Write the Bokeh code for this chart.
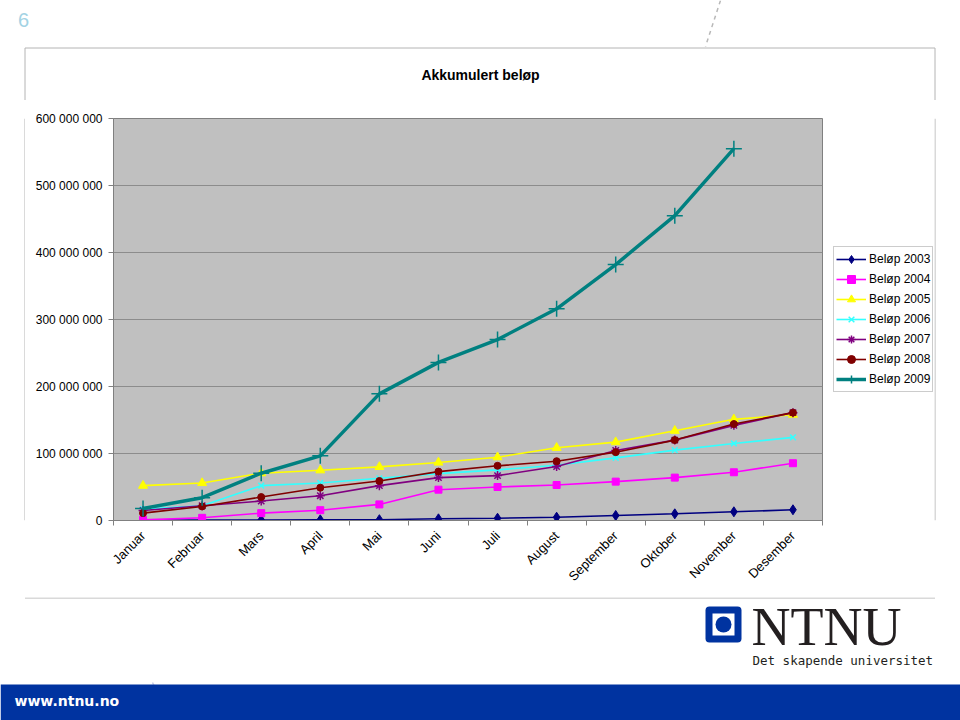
import math
from bokeh.plotting import figure
from bokeh.layouts import column, row
from bokeh.models import (FactorRange, Range1d, LinearAxis, CategoricalAxis, FixedTicker,
                          Legend, LegendItem, Label, BoxAnnotation, Grid)
from bokeh.embed import file_html
from bokeh.resources import INLINE

# ---------------- data (values in millions NOK) ----------------
months = ["Januar", "Februar", "Mars", "April", "Mai", "Juni", "Juli",
          "August", "September", "Oktober", "November", "Desember"]

belop_2003 = [0.3, 0.6, 0.8, 1.0, 1.2, 2.5, 3.4, 4.9, 7.5, 10.0, 13.0, 16.0]
belop_2004 = [1.0, 4.0, 11.0, 15.4, 24.0, 46.0, 50.0, 53.0, 58.0, 64.0, 72.0, 85.5]
belop_2005 = [52.0, 56.0, 70.6, 75.0, 80.0, 86.6, 94.5, 108.5, 117.0, 134.0, 151.0, 158.0]
belop_2006 = [17.0, 22.0, 52.0, 56.0, 63.0, 70.0, 75.6, 82.5, 93.5, 105.0, 115.0, 124.0]
belop_2007 = [15.0, 22.0, 29.0, 37.0, 52.0, 64.0, 67.0, 80.6, 104.5, 120.0, 142.0, 161.0]
belop_2008 = [11.0, 21.0, 35.0, 49.0, 59.0, 73.0, 81.6, 88.5, 102.0, 120.0, 144.0, 161.0]
belop_2009 = [18.0, 34.0, 70.6, 96.5, 189.0, 236.0, 270.0, 316.0, 382.0, 455.0, 555.0]

series_labels = ["Beløp 2003", "Beløp 2004", "Beløp 2005", "Beløp 2006",
                 "Beløp 2007", "Beløp 2008", "Beløp 2009"]

yticks = [0, 100_000_000, 200_000_000, 300_000_000, 400_000_000, 500_000_000, 600_000_000]
ytick_labels = ["0", "100 000 000", "200 000 000", "300 000 000",
                "400 000 000", "500 000 000", "600 000 000"]

title_text = "Akkumulert beløp"

FONT = "Liberation Sans"
BOX = "#b4b4b4"
BLUE = "#0033a0"


def blank(w, h, flip=True):
    """A figure whose frame covers its whole canvas, with pixel coordinates."""
    yr = Range1d(h, 0) if flip else Range1d(0, h)
    f = figure(width=w, height=h, x_range=Range1d(0, w), y_range=yr,
               x_axis_location=None, y_axis_location=None, title=None,
               output_backend="svg", toolbar_location=None,
               min_border=0, outline_line_color=None,
               background_fill_color="white", border_fill_color="white")
    f.grid.visible = False
    return f


# ---------------- main chart (page x 25..823, y 100..597) ----------------
MW, MH = 798, 497
p = figure(width=MW, height=MH, title=None,
           x_range=FactorRange(factors=months), y_range=Range1d(0, 600_000_000),
           x_axis_location=None, y_axis_location=None,
           output_backend="svg", toolbar_location=None,
           min_border_left=88, min_border_right=1,
           min_border_top=18, min_border_bottom=77,
           background_fill_color="#c0c0c0", border_fill_color="white",
           outline_line_color="#808080", outline_line_width=1)
p.grid.visible = False

# tick marks at the boundaries between categories (synthetic coordinates 0..12), no labels
xtick_axis = LinearAxis(ticker=FixedTicker(ticks=[], minor_ticks=list(range(len(months) + 1))),
                        major_tick_in=0, major_tick_out=0, minor_tick_in=0, minor_tick_out=5,
                        major_label_standoff=0,
                        axis_line_color="#808080", minor_tick_line_color="#808080")
p.add_layout(xtick_axis, "below")

xcat = CategoricalAxis(axis_line_color=None, major_tick_line_color=None,
                       major_tick_in=0, major_tick_out=0,
                       major_label_orientation=math.pi / 4,
                       major_label_text_font=FONT, major_label_text_font_size="13px",
                       major_label_text_color="black", major_label_standoff=8)
p.add_layout(xcat, "below")

yaxis = LinearAxis(ticker=FixedTicker(ticks=yticks),
                   major_label_overrides=dict(zip(yticks, ytick_labels)),
                   major_tick_in=0, major_tick_out=5, minor_tick_in=0, minor_tick_out=0,
                   axis_line_color="#808080", major_tick_line_color="#808080",
                   major_label_text_font=FONT, major_label_text_font_size="12px",
                   major_label_text_color="black", major_label_standoff=6)
p.add_layout(yaxis, "left")
p.add_layout(Grid(dimension=1, ticker=FixedTicker(ticks=yticks),
                  grid_line_color="#8c8c8c", grid_line_width=1))

all_values = [belop_2003, belop_2004, belop_2005, belop_2006, belop_2007, belop_2008, belop_2009]
colors = ["#000080", "#ff00ff", "#ffff00", "#33ffff", "#800080", "#800000", "#008080"]
markers = ["diamond", "square", "triangle", "x", "asterisk", "circle", "cross"]
msizes = [10, 7, 9, 8, 9, 7, 16]
lwidths = [1.6, 1.6, 1.6, 1.6, 1.6, 1.6, 3.5]

# legend panel (page x 823..934): a figure that carries the key for the series
LW = 111
lf = blank(LW, MH, flip=False)

items = []
for lab, vals, col, mk, ms, lw in zip(series_labels, all_values, colors, markers, msizes, lwidths):
    xs = months[:len(vals)]
    ys = [v * 1_000_000 for v in vals]
    mlw = 1.5 if mk in ("x", "asterisk", "cross") else 1
    p.line(x=xs, y=ys, line_color=col, line_width=lw)
    p.scatter(x=xs, y=ys, marker=mk, size=ms, fill_color=col, line_color=col, line_width=mlw)
    # same styles, placed outside the visible range: only the legend key shows them
    kl = lf.line(x=[-500, -400], y=[-500, -500], line_color=col, line_width=lw)
    ks = lf.scatter(x=[-500], y=[-500], marker=mk, size=min(ms, 12), fill_color=col,
                    line_color=col, line_width=mlw)
    items.append(LegendItem(label=lab, renderers=[kl, ks]))

legend = Legend(items=items, location=(10, 128),
                label_text_font=FONT, label_text_font_size="12px", label_text_color="black",
                glyph_width=30, glyph_height=20, label_height=20, label_standoff=3,
                spacing=0, padding=2, margin=0,
                border_line_color="#999999", border_line_width=1,
                background_fill_color="white", background_fill_alpha=1)
lf.add_layout(legend)

# ---------------- top strip (page y 0..100) ----------------
TH = 100
top = blank(960, TH)
top.add_layout(Label(x=23, y=19, text="6", text_align="center", text_baseline="middle",
                     text_font=FONT, text_font_size="20px", text_color="#a3d3e4"))
top.segment(x0=[720], y0=[0], x1=[705], y1=[46], line_color="#b8b8b8",
            line_width=1.5, line_dash="4 4")
top.segment(x0=[24.5, 24.5, 934.5], y0=[47.5, 47.5, 47.5],
            x1=[934.5, 24.5, 934.5], y1=[47.5, TH, TH], line_color=BOX, line_width=1)
top.add_layout(Label(x=480, y=74, text=title_text, text_align="center", text_baseline="middle",
                     text_font=FONT, text_font_style="bold", text_font_size="14px",
                     text_color="black"))

# ---------------- side strips (page y 100..597) ----------------
left = blank(25, MH)
left.segment(x0=[24.5], y0=[0], x1=[24.5], y1=[MH], line_color=BOX, line_width=1)
right = blank(26, MH)
right.segment(x0=[0.5], y0=[0], x1=[0.5], y1=[MH], line_color=BOX, line_width=1)

# ---------------- bottom strip (page y 597..720) ----------------
BH = 123
bot = blank(960, BH)
bot.segment(x0=[24.5], y0=[0.5], x1=[934.5], y1=[0.5], line_color=BOX, line_width=1)
# blue band
bot.add_layout(BoxAnnotation(left=0, right=960, top=87, bottom=BH,
                             fill_color=BLUE, fill_alpha=1, line_color=None))
bot.segment(x0=[152], y0=[85], x1=[170], y1=[BH], line_color="#c8cce8",
            line_width=1.5, line_dash="4 4")
bot.add_layout(Label(x=14, y=103, text="www.ntnu.no", text_align="left", text_baseline="middle",
                     text_font="DejaVu Sans", text_font_style="bold", text_font_size="14px",
                     text_color="white"))
# NTNU logo
bot.add_layout(BoxAnnotation(left=705, right=741, top=9, bottom=45,
                             fill_color=BLUE, fill_alpha=1, line_color=None, border_radius=4))
bot.add_layout(BoxAnnotation(left=712, right=734, top=16, bottom=38,
                             fill_color="white", fill_alpha=1, line_color=None))
bot.add_layout(BoxAnnotation(left=715, right=731, top=19, bottom=35,
                             fill_color=BLUE, fill_alpha=1, line_color=None, border_radius=8))
bot.add_layout(Label(x=751, y=29, text="NTNU", text_align="left", text_baseline="middle",
                     text_font="Liberation Serif", text_font_size="54px", text_color="#231f20"))
bot.add_layout(Label(x=752, y=63, text="Det skapende universitet", text_align="left",
                     text_baseline="middle", text_font="DejaVu Sans Mono",
                     text_font_size="12.5px", text_color="#231f20"))

layout = column(top, row(left, p, lf, right), bot)
open("out.html", "w").write(file_html(layout, INLINE))
